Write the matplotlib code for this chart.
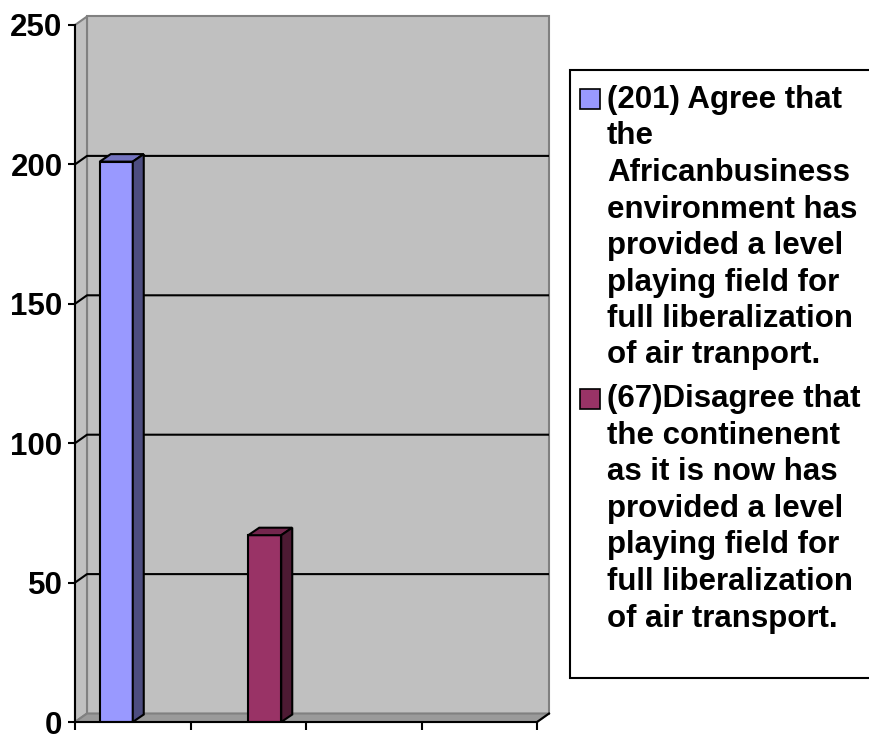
import numpy as np
import matplotlib
matplotlib.use("Agg")
import matplotlib.pyplot as plt
from matplotlib.patches import Polygon, Rectangle

# ---------------- data ----------------
categories = ["", "", "", ""]
series_labels = [
    "(201) Agree that\nthe\nAfricanbusiness\nenvironment has\nprovided a level\nplaying field for\nfull liberalization\nof air tranport.",
    "(67)Disagree that\nthe continenent\nas it is now has\nprovided a level\nplaying field for\nfull liberalization\nof air transport.",
]
agree_values = [201, np.nan, np.nan, np.nan]
disagree_values = [np.nan, 67, np.nan, np.nan]
y_ticks = [0, 50, 100, 150, 200, 250]

# ---------------- style ----------------
front_colors = ["#9999FF", "#993366"]
top_colors = ["#7373BF", "#73264D"]
side_colors = ["#4D4D80", "#4D1A33"]
FONT = "Liberation Sans"
FS = 22.5

plt.rcParams["font.family"] = [FONT, "DejaVu Sans"]
plt.rcParams["font.weight"] = "bold"

W, H = 869, 734
fig = plt.figure(figsize=(W / 100, H / 100), dpi=100)
ax_l, ax_r, ax_b, ax_t = 75, 537, 722, 25
ax = fig.add_axes([ax_l / W, (H - ax_b) / H, (ax_r - ax_l) / W, (ax_b - ax_t) / H])
n = len(categories)
ymax = y_ticks[-1]
ax.set_xlim(0, n)
ax.set_ylim(0, ymax)
ax.patch.set_visible(False)

px_x = n / (ax_r - ax_l)
px_y = ymax / (ax_b - ax_t)
wdx, wdy = 12 * px_x, 8.5 * px_y   # wall depth
bdx, bdy = 11 * px_x, 7.5 * px_y   # bar depth

wall_c = "#C0C0C0"
edge_c = "#808080"
lw = 1.5

# back wall
ax.add_patch(Rectangle((wdx, wdy), n, ymax, facecolor=wall_c, edgecolor=edge_c,
                       lw=lw, zorder=0, clip_on=False))
# side wall
ax.add_patch(Polygon([(0, 0), (wdx, wdy), (wdx, ymax + wdy), (0, ymax)], closed=True,
                     facecolor=wall_c, edgecolor=edge_c, lw=lw, zorder=0.2, clip_on=False))
# floor
ax.add_patch(Polygon([(0, 0), (n, 0), (n + wdx, wdy), (wdx, wdy)], closed=True,
                     facecolor="#9A9A9A", edgecolor=edge_c, lw=lw, zorder=0.3, clip_on=False))

# gridlines
for v in y_ticks[1:-1]:
    ax.plot([0, wdx, n + wdx], [v, v + wdy, v + wdy], color="black", lw=lw,
            zorder=1, clip_on=False, solid_capstyle="butt")

# bars
bw = 1 / 3.5
all_series = [agree_values, disagree_values]
for i, vals in enumerate(all_series):
    centers = np.arange(n) + 0.5 + (i - 0.5) * bw
    ax.bar(centers, vals, width=bw, color=front_colors[i], edgecolor="black",
           lw=lw, zorder=3, label=series_labels[i])
    for c, v in zip(centers, vals):
        if np.isnan(v):
            continue
        x0, x1 = c - bw / 2, c + bw / 2
        ax.add_patch(Polygon([(x0, v), (x1, v), (x1 + bdx, v + bdy), (x0 + bdx, v + bdy)],
                             closed=True, facecolor=top_colors[i], edgecolor="black",
                             lw=lw, zorder=3, clip_on=False))
        ax.add_patch(Polygon([(x1, 0), (x1 + bdx, bdy), (x1 + bdx, v + bdy), (x1, v)],
                             closed=True, facecolor=side_colors[i], edgecolor="black",
                             lw=lw, zorder=3, clip_on=False))

# axes
for s in ["top", "right"]:
    ax.spines[s].set_visible(False)
for s in ["left", "bottom"]:
    ax.spines[s].set_color("black")
    ax.spines[s].set_linewidth(lw)
    ax.spines[s].set_zorder(4)
ax.plot([n, n + wdx], [0, wdy], color="black", lw=lw, zorder=4, clip_on=False)

ax.set_yticks(y_ticks)
ax.set_yticklabels([str(t) for t in y_ticks], fontsize=FS, fontweight="bold", family=FONT)
ax.tick_params(axis="y", direction="out", length=5, width=lw, pad=4, color="black")
ax.set_xticks(np.arange(n + 1))
ax.set_xticklabels([])
ax.tick_params(axis="x", direction="out", length=6, width=lw, color="black")

# legend (drawn manually, Excel style)
box_l, box_t, box_b = 570, 70, 678
fig.add_artist(Rectangle((box_l / W, (H - box_b) / H), (W + 20 - box_l) / W, (box_b - box_t) / H,
                         transform=fig.transFigure, facecolor="white", edgecolor="black",
                         lw=1.5, clip_on=False, zorder=5))
base = 108
step = 36.5
entry_gap = 44
text_x = 607
msz = 20
for i, lab in enumerate(series_labels):
    lines = lab.split("\n")
    fig.add_artist(Rectangle((580 / W, (H - (base + 1)) / H), msz / W, msz / H,
                             transform=fig.transFigure, facecolor=front_colors[i],
                             edgecolor="black", lw=1.2, zorder=6))
    y = base
    for ln in lines:
        fig.text(text_x / W, (H - y) / H, ln, fontsize=FS, fontweight="bold",
                 family=FONT, va="baseline", ha="left", zorder=6)
        last = y
        y += step
    base = last + entry_gap

fig.savefig("out.png", dpi=100)
